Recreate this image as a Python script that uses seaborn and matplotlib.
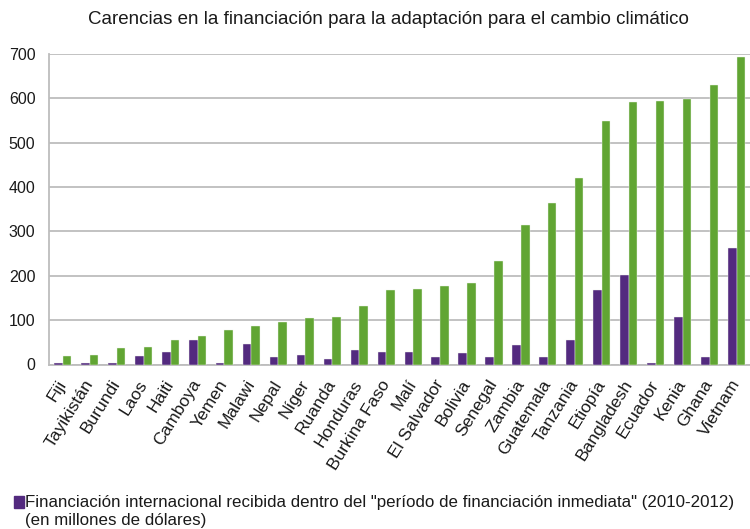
import matplotlib
matplotlib.use("Agg")
import matplotlib.pyplot as plt
from matplotlib.patches import Rectangle
import seaborn as sns
import pandas as pd

paises = ["Fiji", "Tayikistán", "Burundi", "Laos", "Haiti", "Camboya", "Yemen",
          "Malawi", "Nepal", "Níger", "Ruanda", "Honduras", "Burkina Faso", "Malí",
          "El Salvador", "Bolivia", "Senegal", "Zambia", "Guatemala", "Tanzania",
          "Etiopía", "Bangladesh", "Ecuador", "Kenia", "Ghana", "Vietnam"]

# millones de dólares
recibida = [3, 3, 3, 19, 29, 56, 3, 47, 18, 21, 13, 32, 29, 29,
            16, 26, 18, 45, 16, 56, 168, 202, 3, 106, 16, 263]
necesaria = [19, 21, 37, 40, 56, 64, 77, 86, 96, 104, 106, 133, 168, 171,
             176, 184, 233, 315, 363, 421, 549, 592, 595, 598, 630, 694]

titulo = "Carencias en la financiación para la adaptación para el cambio climático"
leyenda = ('Financiación internacional recibida dentro del "período de financiación inmediata" (2010-2012)\n'
           '(en millones de dólares)')

morado = "#532a7f"
verde = "#61a533"
gris = "#bdbdbd"

df = pd.DataFrame({
    "pais": paises * 2,
    "valor": recibida + necesaria,
    "serie": ["recibida"] * len(paises) + ["necesaria"] * len(paises),
})

sns.set_style("white")
plt.rcParams["font.family"] = ["Liberation Sans", "DejaVu Sans"]

fig = plt.figure(figsize=(7.5, 5.29), dpi=100)
ax = fig.add_axes([49.3 / 750, 1 - 364.5 / 529, 1 - 49.3 / 750, (364.5 - 54) / 529])

sns.barplot(data=df, x="pais", y="valor", hue="serie", order=paises,
            palette={"recibida": morado, "necesaria": verde}, saturation=1,
            width=0.64, edgecolor="#eef3ea", linewidth=0.3,
            legend=False, ax=ax, zorder=3)

ax.set_ylim(0, 700)
ax.set_yticks(range(0, 701, 100))
ax.set_xlim(-0.5, 25.12)
ax.yaxis.grid(True, color=gris, linewidth=1.3, zorder=0)
ax.set_axisbelow(True)
ax.set_xlabel("")
ax.set_ylabel("")

for s in ["top", "right"]:
    ax.spines[s].set_visible(False)
for s in ["left", "bottom"]:
    ax.spines[s].set_color(gris)
    ax.spines[s].set_linewidth(1.3)

# marcas entre categorías en x
ax.set_xticks([i for i in range(len(paises))])
ax.set_xticklabels(paises, rotation=58, ha="right", rotation_mode="anchor",
                   fontsize=12.5, color="#1a1a1a", va="center")
ax.set_xticks([i - 0.5 for i in range(len(paises) + 1)], minor=True)
ax.tick_params(axis="x", which="major", length=0, pad=12)
ax.tick_params(axis="x", which="minor", length=5, color=gris, width=1.3)
ax.tick_params(axis="y", length=5, color=gris, width=1.3, labelsize=11.5,
               labelcolor="#1a1a1a", pad=5)

fig.text(388 / 750, 1 - 20 / 529, titulo, ha="center", va="center", fontsize=13.5, color="#1a1a1a")

fig.patches.append(Rectangle((14 / 750, 1 - 508 / 529), 10 / 750, 12 / 529,
                             transform=fig.transFigure, color=morado, figure=fig))
fig.text(25 / 750, 1 - 511 / 529, leyenda, ha="left", va="center", fontsize=12.2,
         color="#1a1a1a", linespacing=1.25)

fig.savefig("out.png", dpi=100)
